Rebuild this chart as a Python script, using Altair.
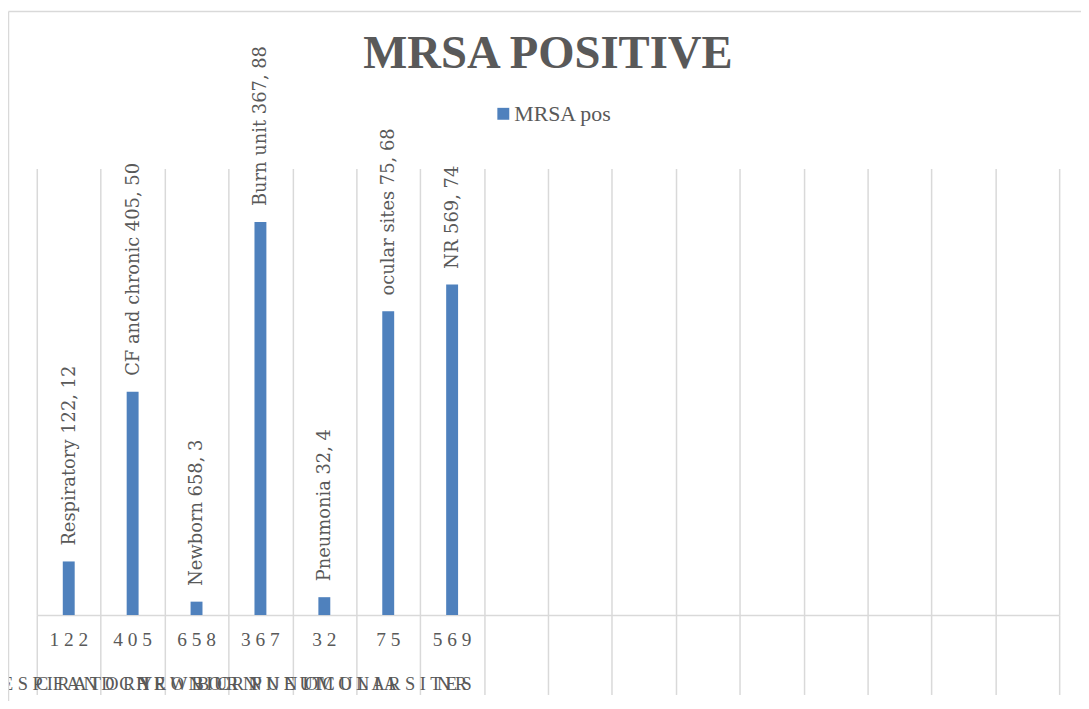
import altair as alt
import pandas as pd

# ---- data ----
categories = ["Respiratory", "CF and chronic", "Newborn", "Burn unit",
              "Pneumonia ", "ocular sites", "NR"]
cases = [122, 405, 658, 367, 32, 75, 569]
mrsa_pos = [12, 50, 3, 88, 4, 68, 74]
series_name = "MRSA pos"
n_empty_slots = 9  # empty category slots drawn by the original chart

df = pd.DataFrame({"category": categories, "cases": cases, "value": mrsa_pos})
df["series"] = series_name
df["label"] = df["category"] + " " + df["cases"].astype(str) + ", " + df["value"].astype(str)
df["num_label"] = df["cases"].astype(str).map(lambda s: " ".join(s))
df["cat_label"] = df["category"].map(lambda s: " ".join(s.upper()))

x_domain = categories + [" " * (i + 1) for i in range(n_empty_slots)]

W, H = 1030, 450
GRID = "#d9d9d9"
TXT = "#595959"
FONT = "Liberation Serif"
LFONT = "DejaVu Serif"

x_enc = alt.X(
    "category:N",
    sort=None,
    scale=alt.Scale(domain=x_domain, paddingInner=0, paddingOuter=0),
    axis=alt.Axis(title=None, labels=False, ticks=True, tickSize=80,
                  tickBand="extent", grid=True, gridColor=GRID, gridWidth=1.5,
                  tickColor=GRID, tickWidth=1.5, domainColor=GRID, domainWidth=1.5),
)
y_scale = alt.Scale(domain=[0, 100], nice=False)

base = alt.Chart(df).encode(x=x_enc)

bars = base.mark_bar(size=12).encode(
    y=alt.Y("value:Q", scale=y_scale, axis=None),
    color=alt.Color(
        "series:N",
        scale=alt.Scale(range=["#4f81bd"]),
        legend=alt.Legend(title=None, orient="none", legendX=459, legendY=-66,
                          symbolType="square", symbolSize=144, symbolStrokeWidth=0,
                          labelFont=FONT, labelFontSize=22, labelColor=TXT,
                          padding=0, labelOffset=0),
    ),
)

data_labels = base.mark_text(
    angle=270, align="left", baseline="middle", yOffset=-16, xOffset=1,
    font=LFONT, fontSize=18, color=TXT,
).encode(y=alt.Y("value:Q", scale=y_scale), text="label:N")

num_labels = base.mark_text(
    align="center", baseline="middle", font=FONT, fontSize=19.5, color=TXT,
).encode(y=alt.value(H + 25), text="num_label:N")

cat_labels = base.mark_text(
    align="center", baseline="middle", font=FONT, fontSize=18.5, color=TXT,
).encode(y=alt.value(H + 70), text="cat_label:N")

frame = pd.DataFrame({"k": [0]})
left_border = alt.Chart(frame).mark_rule(color=GRID, strokeWidth=1.5).encode(
    x=alt.value(-28.5), y=alt.value(-158), y2=alt.value(H + 90))
top_border = alt.Chart(frame).mark_rule(color=GRID, strokeWidth=1.5).encode(
    x=alt.value(-28.5), x2=alt.value(W + 30), y=alt.value(-158))

chart = alt.layer(bars, data_labels, num_labels, cat_labels, left_border, top_border).properties(
    width=W,
    height=H,
    title=alt.TitleParams("MRSA POSITIVE", font=FONT, fontSize=47, fontWeight="bold",
                          color=TXT, anchor="middle", offset=-68),
    autosize=alt.AutoSizeParams(type="none"),
    padding={"left": 29, "top": 159, "right": 22, "bottom": 84},
    background="white",
).configure_view(strokeWidth=0)

chart.save("out.html", embed_options={"renderer": "svg", "actions": False})
